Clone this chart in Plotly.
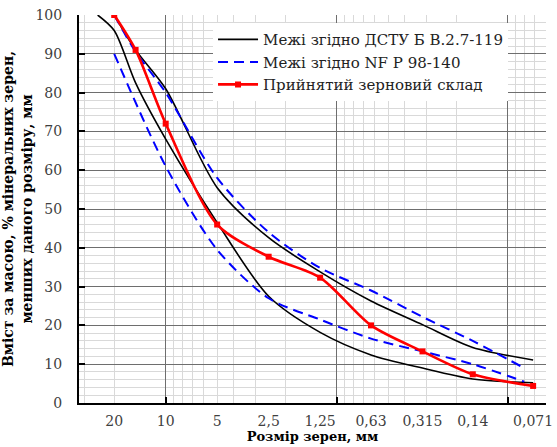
import plotly.graph_objects as go

# ---- data ----
red_sizes = [20, 15, 10, 5, 2.5, 1.25, 0.63, 0.315, 0.16, 0.071]
red_values = [100, 91, 72, 46, 37.7, 32.3, 20, 13.3, 7.4, 4.4]

dstu_upper_sizes = [20, 15, 10, 5, 2.5, 1.25, 0.63, 0.315, 0.16, 0.071]
dstu_upper_values = [100, 91, 81, 55.5, 42.6, 33.8, 26.3, 20.2, 14.3, 11.1]

dstu_lower_sizes = [25, 20, 15, 10, 5, 2.5, 1.25, 0.63, 0.315, 0.16, 0.071]
dstu_lower_values = [100, 96, 82.5, 68, 46.5, 27.5, 18.2, 12.4, 9.0, 6.2, 5.2]

nf_upper_sizes = [20, 15, 10, 5, 2.5, 1.25, 0.63, 0.315, 0.16, 0.08]
nf_upper_values = [100, 90.5, 80, 58, 44, 34.8, 29, 22.2, 16, 9]

nf_lower_sizes = [20, 10, 5, 2.5, 1.25, 0.63, 0.315, 0.16, 0.08]
nf_lower_values = [90, 61, 39.5, 27, 21.5, 16.6, 13.3, 10, 5.5]

tick_sizes = [20, 10, 5, 2.5, 1.25, 0.63, 0.315, 0.16, 0.071]
tick_labels = ["20", "10", "5", "2,5", "1,25", "0,63", "0,315", "0,14", "0,071"]

names = ["Межі згідно ДСТУ Б В.2.7-119", "Межі згідно NF P 98-140", "Прийнятий зерновий склад"]

FONT = "DejaVu Serif"
x_range = [1.507, -1.224]

fig = go.Figure()
fig.add_trace(go.Scatter(x=dstu_upper_sizes, y=dstu_upper_values, mode="lines",
                         line=dict(color="black", width=1.6, shape="spline", smoothing=0.8),
                         name=names[0], legendgroup="d"))
fig.add_trace(go.Scatter(x=dstu_lower_sizes, y=dstu_lower_values, mode="lines",
                         line=dict(color="black", width=1.6, shape="spline", smoothing=0.8),
                         name=names[0], legendgroup="d", showlegend=False))
fig.add_trace(go.Scatter(x=nf_upper_sizes, y=nf_upper_values, mode="lines",
                         line=dict(color="#0000ff", width=2, dash="10px,6px", shape="spline", smoothing=0.8),
                         name=names[1], legendgroup="n"))
fig.add_trace(go.Scatter(x=nf_lower_sizes, y=nf_lower_values, mode="lines",
                         line=dict(color="#0000ff", width=2, dash="10px,6px", shape="spline", smoothing=0.8),
                         name=names[1], legendgroup="n", showlegend=False))
fig.add_trace(go.Scatter(x=red_sizes, y=red_values, mode="lines+markers",
                         line=dict(color="#ff0000", width=2.6, shape="spline", smoothing=0.8),
                         marker=dict(symbol="square", size=6, color="#ff0000"),
                         name=names[2]))
# carrier for the label axis
fig.add_trace(go.Scatter(x=[tick_sizes[0]], y=[None], xaxis="x2", mode="lines",
                         showlegend=False, hoverinfo="skip"))

minor_x = [m * 10 ** e for e in (1, 0, -1, -2) for m in range(2, 10)]

fig.update_layout(
    width=557, height=447,
    margin=dict(l=79, r=11, t=15, b=44, autoexpand=False),
    paper_bgcolor="white", plot_bgcolor="white",
    font=dict(family=FONT, size=14, color="#404040"),
    showlegend=True,
    legend=dict(x=0.287, y=0.979, xanchor="left", yanchor="top",
                bgcolor="white", borderwidth=0,
                font=dict(family=FONT, size=15, color="#222222"),
                tracegroupgap=0, itemwidth=40),
    xaxis=dict(type="log", range=x_range, tickmode="array", tickvals=[10, 1, 0.1],
               showticklabels=False, ticks="inside", ticklen=6, tickwidth=1.5, tickcolor="black",
               showgrid=True, gridcolor="#6e6e6e", gridwidth=1,
               minor=dict(tickvals=minor_x, showgrid=True, gridcolor="#d9d9d9", gridwidth=1, ticks=""),
               showline=True, linecolor="black", linewidth=2, zeroline=False, automargin=False),
    xaxis2=dict(type="log", range=x_range, overlaying="x", anchor="y", side="bottom",
                tickmode="array", tickvals=tick_sizes, ticktext=tick_labels,
                ticks="", showgrid=False, showline=False, zeroline=False, automargin=False,
                ticklabeloverflow="allow", ticklabelstandoff=8,
                tickfont=dict(family=FONT, size=14, color="#404040"),
                title=dict(text="<b>Розмір зерен, мм</b>", font=dict(family=FONT, size=13, color="black"),
                           standoff=3)),
    yaxis=dict(range=[0, 100], tickmode="linear", tick0=0, dtick=10,
               ticks="inside", ticklen=6, tickwidth=1.5, tickcolor="black",
               showgrid=True, gridcolor="#6e6e6e", gridwidth=1,
               minor=dict(dtick=2, showgrid=True, gridcolor="#d9d9d9", gridwidth=1, ticks=""),
               showline=True, linecolor="black", linewidth=2, zeroline=False, automargin=False,
               ticklabelstandoff=12,
               tickfont=dict(family=FONT, size=14, color="#404040"),
               title=dict(text="<b>Вміст за масою, % мінеральних зерен,<br>менших даного розміру, мм</b>",
                          font=dict(family=FONT, size=14, color="black"), standoff=0)),
)

fig.write_html("out.html", config={"displayModeBar": False},
               post_script="document.body.style.margin='0';")
